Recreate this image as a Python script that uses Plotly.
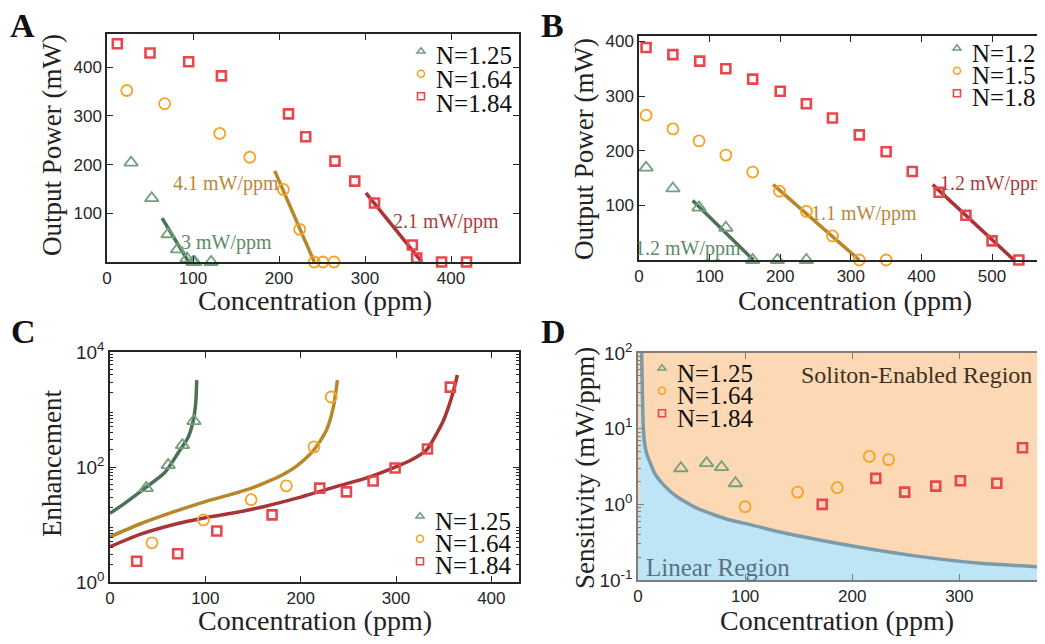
import plotly.graph_objects as go

# page body has an 8px margin: the figure is sized so the page still spans 1045x644
OFF = 8
W, H = 1045 - OFF, 644 - OFF

# ---------------- Panel A data ----------------
a_green_x = [28, 52, 71, 82, 93, 100, 102, 121]
a_green_y = [204, 131, 57, 26, 7, 0, 0, 0]
a_orange_x = [23, 67, 131, 166, 205, 224, 241, 251, 264]
a_orange_y = [352, 325, 264, 215, 149, 67, 0, 0, 0]
a_red_x = [12, 50, 95, 133, 211, 231, 265, 288, 311, 355, 360, 389, 418]
a_red_y = [448, 429, 411, 382, 304, 257, 207, 166, 121, 35, 8, 0, 0]
a_fit_green_x, a_fit_green_y = [64, 95], [90, 0]
a_fit_orange_x, a_fit_orange_y = [195, 241], [187, 0]
a_fit_red_x, a_fit_red_y = [301, 366], [142, 0]
a_labels = ["N=1.25", "N=1.64", "N=1.84"]

# ---------------- Panel B data ----------------
b_green_x = [10, 48, 85, 123, 161, 196, 237]
b_green_y = [169, 131, 96, 59, 0, 0, 0]
b_orange_x = [10, 48, 85, 123, 161, 199, 237, 274, 312, 350]
b_orange_y = [265, 240, 218, 192, 161, 126, 89, 44, 0, 0]
b_red_x = [10, 48, 86, 123, 161, 200, 237, 274, 312, 350, 387, 425, 463, 500, 538, 574]
b_red_y = [389, 376, 364, 350, 331, 309, 286, 260, 229, 198, 162, 124, 82, 35, 0, 0]
b_fit_green_x, b_fit_green_y = [76, 162], [109, 0]
b_fit_orange_x, b_fit_orange_y = [190, 312], [138, 0]
b_fit_red_x, b_fit_red_y = [416, 531], [138, 0]
b_labels = ["N=1.2", "N=1.5", "N=1.8"]

# ---------------- Panel C data ----------------
c_green_x = [38, 61, 76, 88]
c_green_y = [43, 108, 240, 630]
c_orange_x = [44, 98, 148, 185, 214, 232]
c_orange_y = [4.8, 12, 27, 47, 224, 1650]
c_red_x = [28, 71, 112, 170, 220, 248, 276, 299, 333, 357]
c_red_y = [2.3, 3.1, 7.7, 14.7, 43, 37, 57, 96, 205, 2450]
c_curve_green_x = [0, 15.7, 36.7, 57.7, 71.4, 82.2, 87.4, 89.9, 91]
c_curve_green_y = [15.6, 23.6, 43, 81, 175, 336, 656, 1290, 3250]
c_curve_orange_x = [0, 30, 65, 100, 126, 147, 161, 180, 196, 213, 227, 234.4, 238.5]
c_curve_orange_y = [6.1, 10, 16.2, 25, 33, 42, 52, 72, 105, 190, 437, 1120, 3240]
c_curve_red_x = [0, 30, 65, 100, 126, 161, 196, 231, 266, 296, 315, 332, 343, 350, 358.5, 364.4]
c_curve_red_y = [4.1, 6.6, 9.8, 13.1, 15.5, 20.4, 28.7, 42.6, 62, 95, 130, 198, 390, 656, 1660, 3980]
c_labels = ["N=1.25", "N=1.64", "N=1.84"]

# ---------------- Panel D data ----------------
d_green_x = [40, 64, 78, 91]
d_green_y = [3.0, 3.5, 3.1, 1.9]
d_orange_x = [100, 149, 186, 216, 234]
d_orange_y = [0.93, 1.45, 1.66, 4.3, 3.9]
d_red_x = [172, 222, 249, 278, 301, 335, 359]
d_red_y = [1.0, 2.2, 1.45, 1.74, 2.05, 1.9, 5.6]
d_bound_x = [3.4, 4.2, 5.0, 6.5, 8.5, 11.2, 16, 23.7, 35, 54.8, 86, 104.7, 132.7, 195, 257, 320, 380]
d_bound_y = [100, 25, 10, 6.0, 4.5, 3.6, 2.5, 1.82, 1.3, 0.89, 0.62, 0.54, 0.43, 0.29, 0.21, 0.166, 0.148]
d_labels = ["N=1.25", "N=1.64", "N=1.84"]

# axis ranges
a_xr, a_yr = [0, 479], [0, 468]
b_xr, b_yr = [0, 575], [0, 410]
c_xr, c_yr = [0, 429], [0, 4]
d_xr, d_yr = [0, 380], [-1, 2]
d_floor = 10 ** d_yr[0]

# ---------------- styles ----------------
G_M, O_M, R_M = "#72a07e", "#f6a323", "#e8474b"
G_L, O_L, R_L = "#4e7055", "#b8862b", "#a83437"
G_T, O_T, R_T = "#5d8a68", "#b98838", "#aa3c3c"
SERIF = "Liberation Serif"
SANS = "Liberation Sans"
AX = "#262626"

def mk(symbol, color, size, lw):
    return dict(symbol=symbol, size=size, color=color, line=dict(color=color, width=lw))

sym = [("triangle-up-open", G_M, 12, 1.8), ("circle-open", O_M, 11, 1.8), ("square-open", R_M, 9, 2.6)]

fig = go.Figure()

def add_points(xs, ys, spec, xa, ya):
    s, c, sz, lw = spec
    fig.add_trace(go.Scatter(x=xs, y=ys, mode="markers", marker=mk(s, c, sz, lw),
                             showlegend=False, xaxis=xa, yaxis=ya, cliponaxis=False))

def add_line(xs, ys, color, xa, ya, width=3.5, spline=False):
    ln = dict(color=color, width=width)
    if spline:
        ln.update(shape="spline", smoothing=0.7)
    fig.add_trace(go.Scatter(x=xs, y=ys, mode="lines", line=ln,
                             showlegend=False, xaxis=xa, yaxis=ya))

def add_legend(xa, ya, legname):
    for s, c, sz, lw in sym:
        fig.add_trace(go.Scatter(x=[None], y=[None], mode="markers", name="\u00a0",
                                 marker=mk(s, c, 7, 1.6), legend=legname, xaxis=xa, yaxis=ya))

# Panel D background regions
fig.add_shape(type="rect", xref="x4 domain", yref="y4 domain", x0=0, x1=1, y0=0, y1=1,
              fillcolor="#fcd9b4", line=dict(width=0), layer="below")
fig.add_trace(go.Scatter(x=[d_xr[0], d_xr[1]], y=[d_floor, d_floor], mode="lines",
                         line=dict(width=0, color="rgba(0,0,0,0)"), showlegend=False,
                         xaxis="x4", yaxis="y4", hoverinfo="skip"))
fig.add_trace(go.Scatter(x=d_bound_x, y=d_bound_y, mode="lines", fill="tonexty",
                         fillcolor="#bee5f5", line=dict(color="#7c9aa7", width=3.5, shape="spline", smoothing=0.6),
                         showlegend=False, xaxis="x4", yaxis="y4"))

# Panel A
add_line(a_fit_green_x, a_fit_green_y, G_L, "x", "y")
add_line(a_fit_orange_x, a_fit_orange_y, O_L, "x", "y")
add_line(a_fit_red_x, a_fit_red_y, R_L, "x", "y")
add_points(a_green_x, a_green_y, sym[0], "x", "y")
add_points(a_orange_x, a_orange_y, sym[1], "x", "y")
add_points(a_red_x, a_red_y, sym[2], "x", "y")
add_legend("x", "y", "legend")

# Panel B
add_line(b_fit_green_x, b_fit_green_y, G_L, "x2", "y2")
add_line(b_fit_orange_x, b_fit_orange_y, O_L, "x2", "y2")
add_line(b_fit_red_x, b_fit_red_y, R_L, "x2", "y2")
add_points(b_green_x, b_green_y, sym[0], "x2", "y2")
add_points(b_orange_x, b_orange_y, sym[1], "x2", "y2")
add_points(b_red_x, b_red_y, sym[2], "x2", "y2")
add_legend("x2", "y2", "legend2")

# Panel C
add_line(c_curve_green_x, c_curve_green_y, G_L, "x3", "y3", spline=True)
add_line(c_curve_orange_x, c_curve_orange_y, O_L, "x3", "y3", spline=True)
add_line(c_curve_red_x, c_curve_red_y, R_L, "x3", "y3", spline=True)
add_points(c_green_x, c_green_y, sym[0], "x3", "y3")
add_points(c_orange_x, c_orange_y, sym[1], "x3", "y3")
add_points(c_red_x, c_red_y, sym[2], "x3", "y3")
add_legend("x3", "y3", "legend3")

# Panel D
add_points(d_green_x, d_green_y, sym[0], "x4", "y4")
add_points(d_orange_x, d_orange_y, sym[1], "x4", "y4")
add_points(d_red_x, d_red_y, sym[2], "x4", "y4")
add_legend("x4", "y4", "legend4")

def px(x):
    return (x - OFF) / W

def py(y):
    return 1 - (y - OFF) / H

def axis(dom, rng, tickvals, ticktext=None, typ="linear", color=AX, minor_vals=None, fs=17):
    d = dict(domain=dom, range=rng, type=typ, tickvals=tickvals, showgrid=False, zeroline=False,
             showline=True, linecolor=color, linewidth=1.5, mirror="ticks", ticks="inside",
             ticklen=6, tickwidth=1.3, tickcolor=color, automargin=False,
             tickfont=dict(family=SANS, size=fs, color=AX))
    if ticktext is not None:
        d["ticktext"] = ticktext
    if minor_vals is not None:
        d["minor"] = dict(tickvals=minor_vals, ticks="inside", ticklen=3, tickwidth=1, tickcolor=color)
    return d

c_minor = [m * 10 ** e for e in range(0, 4) for m in range(2, 10)]
d_minor = [m * 10 ** e for e in range(-1, 2) for m in range(2, 10)]

layout = dict(
    width=W, height=H, margin=dict(l=0, r=0, t=0, b=0, autoexpand=False),
    paper_bgcolor="white", plot_bgcolor="rgba(0,0,0,0)",
    xaxis=axis([px(107), px(519)], a_xr, [0, 100, 200, 300, 400]),
    yaxis=axis([py(262), py(34)], a_yr, [100, 200, 300, 400]),
    xaxis2=axis([px(639), 1.0], b_xr, [0, 100, 200, 300, 400, 500]),
    yaxis2=axis([py(260), py(36)], b_yr, [100, 200, 300, 400]),
    xaxis3=axis([px(110), px(519)], c_xr, [0, 100, 200, 300, 400]),
    yaxis3=axis([py(582), py(352)], [c_yr[0], c_yr[1]], [1, 100, 10000],
                ["10<sup>0</sup>", "10<sup>2</sup>", "10<sup>4</sup>"], typ="log", minor_vals=c_minor, fs=19),
    xaxis4=axis([px(638), 1.0], d_xr, [0, 100, 200, 300], color="#7f7f7f"),
    yaxis4=axis([py(580), py(353)], d_yr, [0.1, 1, 10, 100],
                ["10<sup>-1</sup>", "10<sup>0</sup>", "10<sup>1</sup>", "10<sup>2</sup>"], typ="log",
                color="#7f7f7f", minor_vals=d_minor, fs=19),
)
for n in ["", "2", "3", "4"]:
    layout["xaxis" + n]["anchor"] = "y" + n
    layout["yaxis" + n]["anchor"] = "x" + n

def leg(marker_x, row1_y):
    return dict(x=px(marker_x - 21), y=py(row1_y - 21), xanchor="left", yanchor="top",
                bgcolor="rgba(0,0,0,0)", font=dict(family=SERIF, size=15, color="#111111"),
                itemwidth=30, tracegroupgap=0, borderwidth=0, traceorder="normal")

# legend marker columns and row centres (page pixels)
leg_pos = {"legend": (422, 56), "legend2": (958, 53), "legend3": (421, 521), "legend4": (663, 373)}
for k, (mx, ry) in leg_pos.items():
    layout[k] = leg(mx, ry)
fig.update_layout(**layout)

ann = []
def text(x, y, s, size, color, angle=0, bold=False, font=SERIF, xanchor="center"):
    ann.append(dict(x=px(x), y=py(y), xref="paper", yref="paper", text=("<b>%s</b>" % s) if bold else s,
                    showarrow=False, textangle=angle, xanchor=xanchor, yanchor="middle",
                    font=dict(family=font, size=size, color=color)))

# legend texts
LEGTXT = "#111111"
for labels, (mx, ry), sp in [(a_labels, leg_pos["legend"], 24), (b_labels, leg_pos["legend2"], 22.5),
                             (c_labels, leg_pos["legend3"], 22), (d_labels, leg_pos["legend4"], 22.5)]:
    for i, lab in enumerate(labels):
        text(mx + 12, ry + i * sp, lab, 25, LEGTXT, xanchor="left")

# panel letters
text(22, 25, "A", 34, "#111111", bold=True)
text(552, 26, "B", 34, "#111111", bold=True)
text(23, 331, "C", 34, "#111111", bold=True)
text(553, 331, "D", 34, "#111111", bold=True)

# axis titles
TC = "#222222"
text(52, 145, "Output Power (mW)", 27, TC, angle=-90)
text(315, 300, "Concentration (ppm)", 28, TC)
text(584, 149, "Output Power (mW)", 27, TC, angle=-90)
text(855, 300, "Concentration (ppm)", 28, TC)
text(52, 464, "Enhancement", 27, TC, angle=-90)
text(315, 620, "Concentration (ppm)", 28, TC)
text(585, 468, "Sensitivity (mW/ppm)", 27, TC, angle=-90)
text(837, 620, "Concentration (ppm)", 28, TC)

# slope labels
text(226, 183, "4.1 mW/ppm", 20, O_T)
text(226, 242, "3 mW/ppm", 20, G_T)
text(446, 221, "2.1 mW/ppm", 20, R_T)
text(688, 248, "1.2 mW/ppm", 20, G_T)
text(864, 213, "1.1 mW/ppm", 20, O_T)
text(993, 184, "1.2 mW/ppm", 20, R_T)

# region labels
text(799, 375, "Soliton-Enabled Region", 24, "#3e3022", xanchor="left")
text(644, 567, "Linear Region", 25, "#587283", xanchor="left")

fig.update_layout(annotations=ann)
fig.write_html("out.html")
